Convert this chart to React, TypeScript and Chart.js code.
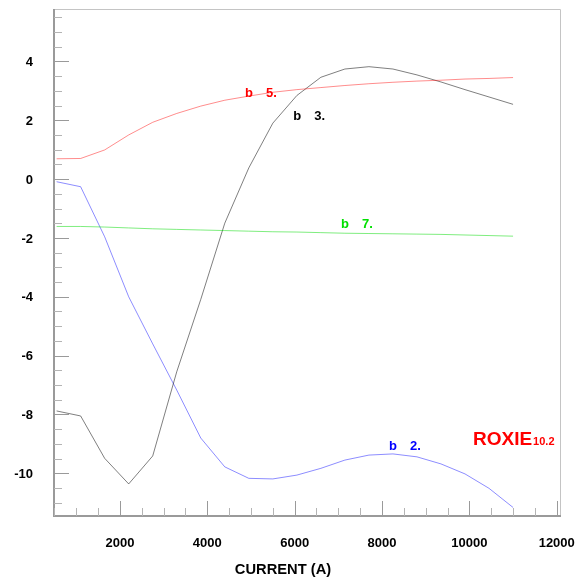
import React, { useEffect, useRef } from 'react';
import { Chart, registerables } from 'chart.js';

Chart.register(...registerables);

// ---- data ----
const currents = [550, 1100, 1650, 2200, 2750, 3300, 3850, 4400, 4950, 5500, 6050, 6600, 7150, 7700, 8250, 8800, 9350, 9900, 10450, 11000];
const b2 = [-0.09, -0.26, -1.96, -4.0, -5.6, -7.17, -8.8, -9.78, -10.17, -10.19, -10.06, -9.83, -9.55, -9.38, -9.34, -9.44, -9.68, -10.02, -10.51, -11.16];
const b3 = [-7.88, -8.05, -9.49, -10.36, -9.41, -6.55, -4.09, -1.5, 0.38, 1.9, 2.84, 3.46, 3.74, 3.82, 3.74, 3.54, 3.3, 3.04, 2.79, 2.54];
const b5 = [0.69, 0.7, 0.99, 1.5, 1.93, 2.23, 2.48, 2.68, 2.82, 2.95, 3.04, 3.11, 3.18, 3.24, 3.29, 3.33, 3.36, 3.4, 3.42, 3.45];
const b7 = [-1.61, -1.61, -1.63, -1.66, -1.69, -1.71, -1.73, -1.75, -1.77, -1.79, -1.8, -1.82, -1.84, -1.85, -1.86, -1.87, -1.88, -1.9, -1.92, -1.94];

const xTickLabels = [2000, 4000, 6000, 8000, 10000, 12000];
const yTickLabels = [4, 2, 0, -2, -4, -6, -8, -10];

const X_MIN = 490;
const X_MAX = 12075;
const Y_MIN = -11.45;
const Y_MAX = 5.78;

// curve labels, anchored in data coordinates (x = current, y = value at text baseline)
const curveLabels = [
  { name: 'b', order: '5.', x: 4862, y: 2.79, color: '#ff0000' },
  { name: 'b', order: '3.', x: 5968, y: 2.0, color: '#000000' },
  { name: 'b', order: '7.', x: 7061, y: -1.66, color: '#00e000' },
  { name: 'b', order: '2.', x: 8160, y: -9.21, color: '#0000ff' },
];

const FONT = "'Liberation Sans', Arial, Helvetica, sans-serif";

const decorPlugin = {
  id: 'decor',
  afterDraw(chart: any) {
    const { ctx, chartArea } = chart;
    const xs = chart.scales.x;
    const ys = chart.scales.y;
    const { left, right, top, bottom } = chartArea;
    ctx.save();

    // frame: top and right light
    ctx.strokeStyle = '#c4c4c4';
    ctx.lineWidth = 1;
    ctx.beginPath();
    ctx.moveTo(left, top + 0.5);
    ctx.lineTo(right + 0.5, top + 0.5);
    ctx.lineTo(right + 0.5, bottom);
    ctx.stroke();

    // left and bottom axes
    ctx.strokeStyle = '#9a9a9a';
    ctx.lineWidth = 2;
    ctx.beginPath();
    ctx.moveTo(left, top);
    ctx.lineTo(left, bottom);
    ctx.lineTo(right + 1, bottom);
    ctx.stroke();

    // y ticks (inward)
    ctx.lineWidth = 1;
    for (let i = -22; i <= 11; i++) {
      const v = i / 2;
      if (v < Y_MIN || v > Y_MAX) continue;
      const major = i % 4 === 0;
      const py = Math.round(ys.getPixelForValue(v)) + 0.5;
      ctx.strokeStyle = major ? '#9a9a9a' : '#b4b4b4';
      ctx.beginPath();
      ctx.moveTo(left, py);
      ctx.lineTo(left + (major ? 15 : 8), py);
      ctx.stroke();
    }
    // x ticks (inward)
    for (let i = 1; i <= 24; i++) {
      const v = i * 500;
      if (v < X_MIN || v > X_MAX) continue;
      const major = i % 4 === 0;
      const px = Math.round(xs.getPixelForValue(v)) + 0.5;
      ctx.strokeStyle = major ? '#9a9a9a' : '#b4b4b4';
      ctx.beginPath();
      ctx.moveTo(px, bottom);
      ctx.lineTo(px, bottom - (major ? 15 : 8));
      ctx.stroke();
    }

    // tick labels
    ctx.fillStyle = '#000000';
    ctx.font = `bold 13px ${FONT}`;
    ctx.textBaseline = 'alphabetic';
    ctx.textAlign = 'right';
    for (const v of yTickLabels) {
      const py = ys.getPixelForValue(v);
      ctx.fillText(String(v), left - 21, py + 4.7);
    }
    ctx.textAlign = 'center';
    for (const v of xTickLabels) {
      const px = xs.getPixelForValue(v);
      ctx.fillText(String(v), px, bottom + 31.3);
    }

    // curve labels
    ctx.textAlign = 'left';
    ctx.font = `bold 13px ${FONT}`;
    for (const l of curveLabels) {
      const px = xs.getPixelForValue(l.x);
      const py = ys.getPixelForValue(l.y);
      ctx.fillStyle = l.color;
      ctx.fillText(l.name, px, py);
      ctx.fillText(l.order, px + 21, py);
    }

    // ROXIE logo
    const rx = xs.getPixelForValue(10083);
    const ry = ys.getPixelForValue(-9.04);
    ctx.fillStyle = '#ff0000';
    ctx.font = `bold 19px ${FONT}`;
    ctx.fillText('ROXIE', rx, ry);
    const w = ctx.measureText('ROXIE').width;
    ctx.font = `bold 11px ${FONT}`;
    ctx.fillText('10.2', rx + w + 1, ry);

    // axis title
    ctx.fillStyle = '#000000';
    ctx.font = `bold 14.7px ${FONT}`;
    ctx.textAlign = 'center';
    ctx.fillText('CURRENT (A)', 283, 574);

    ctx.restore();
  },
};

export default function App() {
  const ref = useRef<HTMLCanvasElement | null>(null);

  useEffect(() => {
    if (!ref.current) return;
    const mk = (vals: number[]) => currents.map((c, i) => ({ x: c, y: vals[i] }));
    const ds = (vals: number[], color: string) => ({
      data: mk(vals),
      borderColor: color,
      borderWidth: 1,
      pointRadius: 0,
      tension: 0,
      fill: false,
    });
    const chart = new Chart(ref.current, {
      type: 'line',
      data: {
        datasets: [
          ds(b5, 'rgba(255,0,0,0.45)'),
          ds(b7, 'rgba(0,220,0,0.5)'),
          ds(b3, 'rgba(0,0,0,0.5)'),
          ds(b2, 'rgba(0,0,255,0.45)'),
        ],
      },
      options: {
        animation: false,
        responsive: false,
        devicePixelRatio: 1,
        layout: { padding: { top: 9, right: 18, left: 0, bottom: 0 } },
        plugins: { legend: { display: false }, tooltip: { enabled: false } },
        scales: {
          x: {
            type: 'linear',
            position: 'bottom',
            min: X_MIN,
            max: X_MAX,
            grid: { display: false, drawTicks: false },
            border: { display: false },
            ticks: { display: false },
            afterFit: (s: any) => {
              s.height = 61;
            },
          },
          y: {
            type: 'linear',
            min: Y_MIN,
            max: Y_MAX,
            grid: { display: false, drawTicks: false },
            border: { display: false },
            ticks: { display: false },
            afterFit: (s: any) => {
              s.width = 54;
            },
          },
        },
      } as any,
      plugins: [decorPlugin],
    });
    return () => chart.destroy();
  }, []);

  return (
    <div style={{ position: 'fixed', left: 0, top: 0, width: 578, height: 577, background: '#fff' }}>
      <canvas ref={ref} width={578} height={577} style={{ display: 'block', width: 578, height: 577 }} />
    </div>
  );
}
